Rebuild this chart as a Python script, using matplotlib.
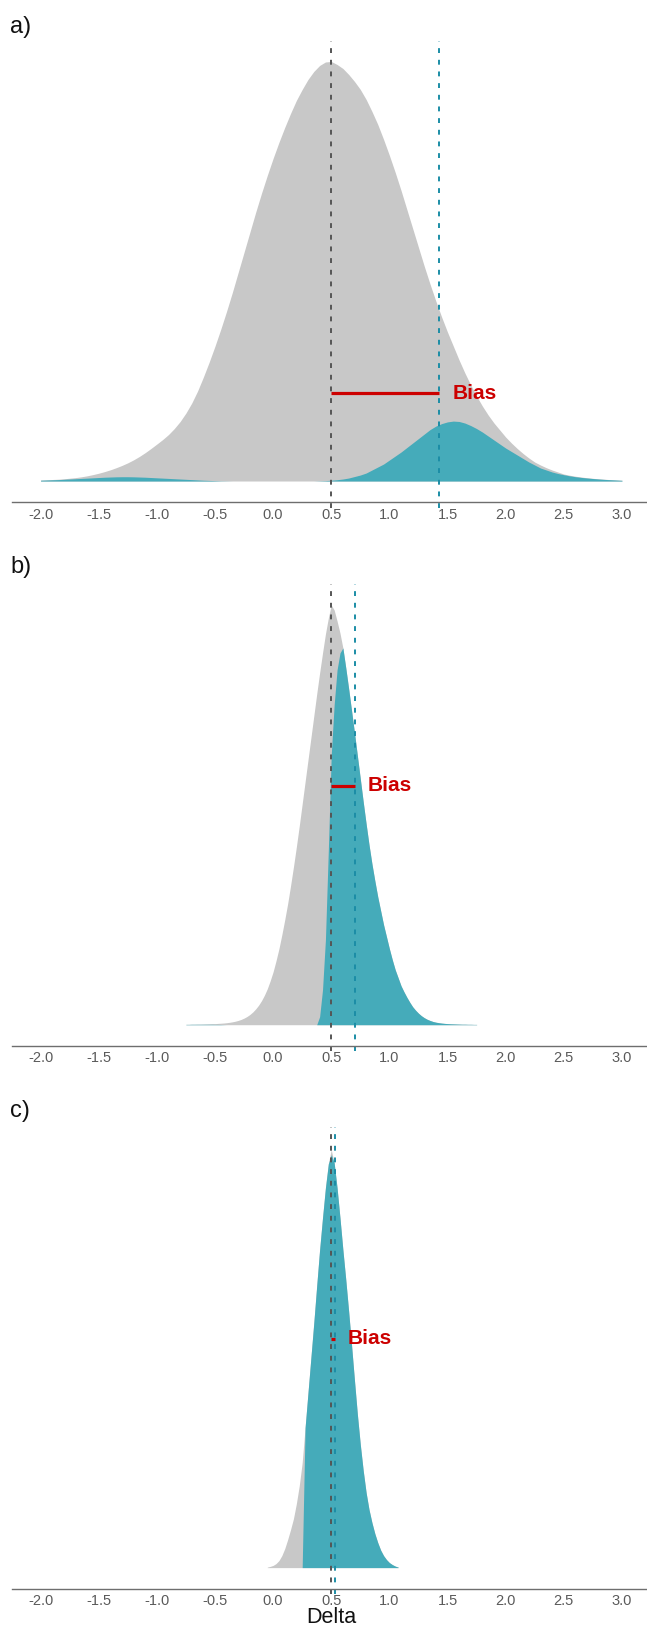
import numpy as np
import matplotlib.pyplot as plt

plt.rcParams['font.family'] = ['Liberation Sans', 'DejaVu Sans']

# bin centres of the three histograms
x_a = np.round(np.arange(-2.0, 3.0001, 0.05), 3)
x_b = np.round(np.arange(-0.75, 1.7501, 0.025), 3)
x_c = np.round(np.arange(-0.05, 1.0751, 0.025), 3)

# a) counts (all estimates / significant estimates)
gray_a = [1.0, 1.2, 1.5, 1.8, 2.2, 2.8, 3.4, 4.2, 5.2, 6.4,
          7.8, 9.4, 11.2, 13.3, 15.6, 18.2, 21.2, 24.6, 28.4, 32.6,
          37, 41.5, 46.5, 52.5, 59.5, 68, 78, 90, 104, 119,
          135, 152, 170, 189, 209, 229, 249, 269, 288, 306,
          323, 339, 354, 368, 381, 392, 402, 410, 416, 419.5,
          420, 417, 413, 407, 400, 392, 382, 370, 357, 342,
          326, 309, 291, 272, 253, 234, 215, 197, 180, 164,
          149, 135, 121, 108, 96, 85, 75, 66, 58, 51,
          44, 38, 32.5, 27.5, 23, 19, 16, 13.3, 11, 9,
          7, 5.8, 4.8, 4.0, 3.3, 2.7, 2.2, 1.8, 1.4, 1.1,
          0.8]
teal_a = [0.8, 1.0, 1.2, 1.4, 1.7, 2.0, 2.3, 2.6, 2.9, 3.2,
          3.5, 3.8, 4.0, 4.2, 4.3, 4.3, 4.2, 4.0, 3.8, 3.5,
          3.2, 2.9, 2.6, 2.3, 2.0, 1.7, 1.4, 1.1, 0.8, 0.6,
          0.4, 0.2, 0.1, 0, 0, 0, 0, 0, 0, 0,
          0, 0, 0, 0, 0, 0, 0, 0, 0.2, 0.4,
          0.8, 1.3, 2, 3, 4.5, 6, 8, 11, 14, 17,
          21, 25, 29, 33.5, 38, 42.5, 47, 51.5, 55, 57.5,
          59.2, 60, 59.6, 58, 55.5, 52.5, 49, 45, 41, 37,
          33, 29.5, 26, 22.5, 19, 16, 13, 11, 9, 7.5,
          6.3, 5.2, 4.3, 3.6, 3.0, 2.5, 2.0, 1.6, 1.3, 1.0,
          0.7]

# b)
gray_b = [0.4, 0.4, 0.5, 0.5, 0.6, 0.6, 0.7, 0.8, 0.9, 1.0,
          1.1, 1.3, 1.5, 1.7, 2.0, 2.4, 2.9, 3.5, 4.3, 5.3,
          6.6, 8.2, 10.2, 12.7, 15.8, 19.5, 24, 29.5, 36, 44,
          53, 64, 76, 90, 105, 121, 139, 158, 178, 199,
          221, 243, 265, 287, 309, 331, 352, 372, 391, 407,
          420, 415, 404, 392, 377, 357, 336, 314, 292, 269,
          246, 223, 201, 180, 161, 144, 128, 114, 100, 88,
          76, 65, 55, 47, 39, 33, 27.5, 22.5, 18, 14.5,
          11.5, 9, 7, 5.4, 4.2, 3.2, 2.5, 2.0, 1.6, 1.3,
          1.1, 0.9, 0.8, 0.7, 0.6, 0.5, 0.5, 0.4, 0.4, 0.3,
          0.3]
teal_b = [0.3, 0.3, 0.4, 0.4, 0.4, 0.4, 0.4, 0.4, 0.4, 0.4,
          0.3, 0.3, 0.2, 0.1, 0, 0, 0, 0, 0, 0,
          0, 0, 0, 0, 0, 0, 0, 0, 0, 0,
          0, 0, 0, 0, 0, 0, 0, 0, 0, 0,
          0, 0, 0, 0, 0, 0, 8, 35, 85, 175,
          270, 320, 355, 372, 377, 357, 336, 314, 292, 269,
          246, 223, 201, 180, 161, 144, 128, 114, 100, 88,
          76, 65, 55, 47, 39, 33, 27.5, 22.5, 18, 14.5,
          11.5, 9, 7, 5.4, 4.2, 3.2, 2.5, 2.0, 1.6, 1.3,
          1.1, 0.9, 0.8, 0.7, 0.6, 0.5, 0.5, 0.4, 0.4, 0.3,
          0.3]

# c)
gray_c = [0.5, 1.2, 2.2, 4, 7, 12, 19, 28, 38, 49,
          64, 82, 105, 140, 175, 210, 245, 282, 318, 350,
          380, 404, 418, 405, 380, 350, 318, 288, 256, 222,
          187, 153, 123, 97, 75, 58, 45, 34, 25, 17.5,
          12, 8, 5, 3, 1.5, 0.5]
teal_c = [0, 0, 0, 0, 0, 0, 0, 0, 0, 0,
          0, 0, 0, 140, 175, 210, 245, 282, 318, 350,
          380, 404, 413, 405, 380, 350, 318, 288, 256, 222,
          187, 153, 123, 97, 75, 58, 45, 34, 25, 17.5,
          12, 8, 5, 3, 1.5, 0.5]

true_delta = 0.5
mean_sig = [1.43, 0.70, 0.53]
bias_y = [88, 239, 229]
panel_labels = ['a)', 'b)', 'c)']
ticks = [-2.0, -1.5, -1.0, -0.5, 0.0, 0.5, 1.0, 1.5, 2.0, 2.5, 3.0]

GRAY = '#C8C8C8'
TEAL = '#45ABBA'
TEAL_LINE = '#1B8DA6'
RED = '#CC0000'

W, H = 647, 1627
fig = plt.figure(figsize=(W / 100, H / 100), dpi=100)

# panel top / bottom in pixels from the top of the figure
panels = [(40.5, 502), (584, 1045.7), (1126.8, 1588.6)]
label_base = [33, 573, 1117]
data = [(x_a, gray_a, teal_a), (x_b, gray_b, teal_b), (x_c, gray_c, teal_c)]

for i, (top, bottom) in enumerate(panels):
    ax = fig.add_axes([11.5 / W, (H - bottom) / H, (651 - 11.5) / W, (bottom - top) / H])
    x, g, t = data[i]
    ax.fill_between(x, g, color=GRAY, lw=0)
    ax.fill_between(x, t, color=TEAL, lw=0)

    ymax = max(gray_a)
    ax.set_ylim(-0.05 * ymax, 1.05 * ymax)
    ax.set_xlim(-2.25, 3.25)

    ax.axvline(true_delta, ymin=-0.012, ymax=1, color='#555555', lw=1.4,
               dashes=(2.5, 3.5), clip_on=False)
    ax.axvline(mean_sig[i], ymin=-0.012, ymax=1, color=TEAL_LINE, lw=1.4,
               dashes=(2.5, 3.5), clip_on=False)

    ax.plot([true_delta, mean_sig[i]], [bias_y[i], bias_y[i]], color=RED,
            lw=2.3, solid_capstyle='butt')
    ax.text(mean_sig[i] + 0.11, bias_y[i], 'Bias', color=RED, fontsize=15,
            fontweight='bold', ha='left', va='center')

    for s in ['top', 'left', 'right']:
        ax.spines[s].set_visible(False)
    ax.spines['bottom'].set_color('#6E6E6E')
    ax.spines['bottom'].set_linewidth(1.0)
    ax.set_yticks([])
    ax.set_xticks(ticks)
    ax.set_xticklabels(['%.1f' % v for v in ticks])
    ax.tick_params(axis='x', length=0, pad=4, labelsize=10.5, labelcolor='#5A5A5A')
    ax.patch.set_alpha(0)

    fig.text(10 / W, 1 - label_base[i] / H, panel_labels[i], fontsize=17,
             ha='left', va='baseline', color='#111111')

fig.text(331 / W, 4 / H, 'Delta', fontsize=15.5, ha='center', va='baseline',
         color='#111111')

fig.savefig('out.png', dpi=100, facecolor='white')
